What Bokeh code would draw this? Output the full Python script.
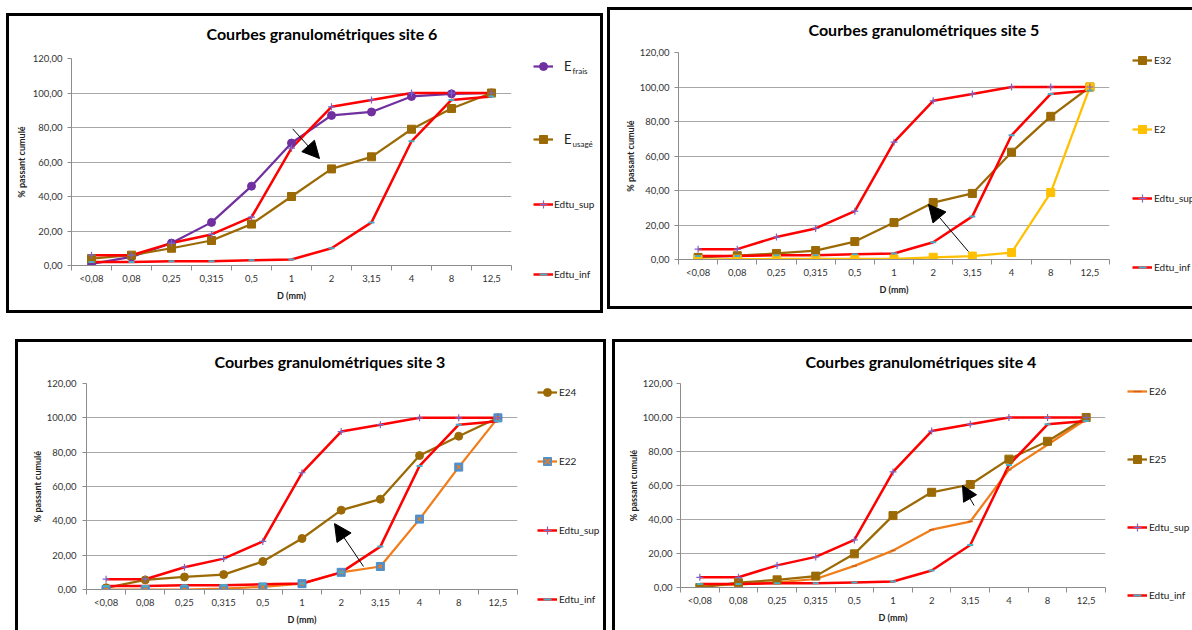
from bokeh.plotting import figure
from bokeh.layouts import column, row
from bokeh.models import (Range1d, FixedTicker, Legend, LegendItem, Arrow, Label,
                          NormalHead, Spacer, Plot)
from bokeh.embed import file_html
from bokeh.resources import INLINE

# ---------------- data ----------------
categories = ["<0,08", "0,08", "0,25", "0,315", "0,5", "1", "2", "3,15", "4", "8", "12,5"]
y_ticks = [0, 20, 40, 60, 80, 100, 120]
y_tick_labels = ["0,00", "20,00", "40,00", "60,00", "80,00", "100,00", "120,00"]

edtu_sup = [6, 6, 13, 18, 28, 68, 92, 96, 100, 100, 100]
edtu_inf = [2, 2, 2.5, 2.5, 3, 3.5, 10, 25, 72, 96, 98]

site6_frais = [1, 5, 13, 25, 46, 71, 87, 89, 98, 99.5, 100]
site6_usage = [4, 6, 10, 14.5, 24, 40, 56, 63, 79, 91, 100]

site5_e32 = [1.2, 2.2, 3.5, 5.2, 10.4, 21.4, 33, 38.3, 62.2, 83, 100]
site5_e2 = [0, 0.2, 0.3, 0.3, 0.3, 0.3, 1.3, 2, 4, 38.8, 100]

site3_e24 = [1, 5.6, 7.3, 8.7, 16.3, 29.7, 46.2, 52.6, 78, 89.3, 100]
site3_e22 = [0, 0, 0, 0.5, 1.5, 3.4, 10, 13.4, 41, 71.3, 100]

site4_e26 = [1, 1.8, 3, 5, 12.7, 21.7, 34, 38.8, 69.2, 84, 99]
site4_e25 = [0, 2.8, 4.5, 6.7, 19.8, 42.3, 56, 60.6, 75.5, 86, 100]

# arrows (x in category index units, y in %)
arrow_site6 = (5.03, 79.2, 5.70, 62.0)
arrow_site5 = (6.90, 4.6, 5.88, 31.9)
arrow_site3 = (6.57, 13.4, 5.83, 38.4)
arrow_site4 = (7.10, 48.2, 6.80, 60.0)

# ---------------- styles ----------------
FONT = "Lato"
RED = "#FF0000"
PURPLE = "#7030A0"
BROWN = "#9C6A05"
YELLOW = "#FFC000"
ORANGE = "#F07D1A"
BLUE = "#4F8FCB"
AXC = "#8C8C8C"
GRID = "#A8A8A8"
TXT = "#222222"

FA = {"frame_align": False} if "frame_align" in Plot.properties() else {}

xs = list(range(len(categories)))


def border_styles(rects):
    imgs = ", ".join(["linear-gradient(#000000, #000000)"] * len(rects))
    sizes = ", ".join(f"{w}px {h}px" for (x, y, w, h) in rects)
    poss = ", ".join(f"{x}px {y}px" for (x, y, w, h) in rects)
    return {"background-image": imgs, "background-size": sizes,
            "background-position": poss, "background-repeat": "no-repeat"}


def sup_spec():
    return dict(label="Edtu_sup", y=edtu_sup, color=RED, lw=2.5,
                markers=[("cross", 7, None, "#7A66C8", 1.2)])


def inf_spec():
    return dict(label="Edtu_inf", y=edtu_inf, color=RED, lw=2.5,
                markers=[("dash", 6, None, "#4BACC6", 2)])


def draw_series(p, s):
    rs = [p.line(xs, s["y"], line_color=s["color"], line_width=s["lw"])]
    for (mk, sz, fill, lc, mlw) in s["markers"]:
        rs.append(p.scatter(xs, s["y"], marker=mk, size=sz,
                            fill_color=fill, line_color=lc, line_width=mlw))
    return rs


def make_chart(W, H, frame, title, title_off, title_standoff, ytick_standoff,
               ylab_standoff, rects, specs, arrow, head=16):
    L, R, T, B = frame
    p = figure(width=W, height=H,
               x_range=Range1d(-0.5, len(categories) - 0.5), y_range=Range1d(0, 120),
               output_backend="svg", toolbar_location=None,
               min_border_left=L, min_border_right=W - R,
               min_border_top=T, min_border_bottom=H - B,
               background_fill_color="white", border_fill_color=None,
               outline_line_color=None, styles=border_styles(rects), **FA)
    p.title.text = title
    p.title.align = "left"
    p.title.offset = title_off
    p.title.standoff = title_standoff
    p.title.text_font = FONT
    p.title.text_font_size = "16px"
    p.title.text_font_style = "bold"
    p.title.text_color = "black"

    xa = p.xaxis[0]
    xa.ticker = FixedTicker(ticks=xs, minor_ticks=[i - 0.5 for i in range(len(categories) + 1)])
    xa.major_label_overrides = {i: c for i, c in enumerate(categories)}
    xa.major_tick_out = 0
    xa.major_tick_in = 0
    xa.minor_tick_out = 5
    xa.minor_tick_in = 0
    xa.minor_tick_line_color = AXC
    xa.axis_line_color = AXC
    xa.major_label_standoff = 2
    xa.major_label_text_font = FONT
    xa.major_label_text_font_size = "9.5px"
    xa.major_label_text_color = "#333333"
    xa.axis_label = "D (mm)"
    xa.axis_label_standoff = 3
    xa.axis_label_text_font = FONT
    xa.axis_label_text_font_size = "9px"
    xa.axis_label_text_font_style = "bold"
    xa.axis_label_text_color = TXT

    ya = p.yaxis[0]
    ya.ticker = FixedTicker(ticks=y_ticks)
    ya.major_label_overrides = dict(zip(y_ticks, y_tick_labels))
    ya.major_tick_out = 4
    ya.major_tick_in = 0
    ya.minor_tick_out = 0
    ya.minor_tick_in = 0
    ya.major_tick_line_color = AXC
    ya.axis_line_color = AXC
    ya.major_label_standoff = ytick_standoff
    ya.major_label_text_font = FONT
    ya.major_label_text_font_size = "9.5px"
    ya.major_label_text_color = "#333333"
    ya.axis_label = "% passant cumulé"
    ya.axis_label_standoff = ylab_standoff
    ya.axis_label_text_font = FONT
    ya.axis_label_text_font_size = "9px"
    ya.axis_label_text_font_style = "bold"
    ya.axis_label_text_color = TXT

    p.xgrid.visible = False
    p.ygrid.grid_line_color = GRID
    p.ygrid.grid_line_width = 1.2

    # Excel-like order: all lines first, then all markers
    for s in specs:
        p.line(xs, s["y"], line_color=s["color"], line_width=s["lw"])
    for s in specs:
        for (mk, sz, fill, lc, mlw) in s["markers"]:
            p.scatter(xs, s["y"], marker=mk, size=sz,
                      fill_color=fill, line_color=lc, line_width=mlw)

    x0, y0, x1, y1 = arrow
    p.add_layout(Arrow(end=NormalHead(size=head, fill_color="black", line_color="black"),
                       x_start=x0, y_start=y0, x_end=x1, y_end=y1,
                       line_color="black", line_width=1))
    return p


def make_legend_fig(W, H, rects):
    # the legend lives in its own small figure; the series are drawn there too
    # (same data) but outside its visible x range, only to feed the legend glyphs
    lf = figure(width=W, height=H, x_range=Range1d(-100, -99), y_range=Range1d(0, 120),
                output_backend="svg", toolbar_location=None,
                min_border_left=0, min_border_right=0, min_border_top=0,
                min_border_bottom=0, x_axis_location=None, y_axis_location=None,
                background_fill_color=None, border_fill_color=None,
                outline_line_color=None, styles=border_styles(rects), **FA)
    lf.title.visible = False
    lf.grid.visible = False
    return lf


def add_legend(lf, specs, labels, H, sym_left, first_cy, spacing, font, standoff):
    """sym_left / first_cy in the legend figure's own pixel space (y from top)."""
    items = [LegendItem(label=lab, renderers=draw_series(lf, s))
             for s, lab in zip(specs, labels)]
    n = len(items)
    top = first_cy - 10
    bottom = top + n * 20 + (n - 1) * spacing
    lf.add_layout(Legend(items=items, location=(sym_left, H - bottom), spacing=spacing,
                         padding=0, margin=0, border_line_color=None,
                         background_fill_alpha=0, glyph_width=20, glyph_height=20,
                         label_height=20, label_standoff=standoff,
                         label_text_font=FONT, label_text_font_size=font,
                         label_text_color=TXT))


# ---------------- site 6 (top left) ----------------
specs6 = [dict(label="E", y=site6_frais, color=PURPLE, lw=2.25,
               markers=[("circle", 8, PURPLE, PURPLE, 1)]),
          dict(label="E", y=site6_usage, color=BROWN, lw=2.25,
               markers=[("square", 8, BROWN, BROWN, 1)]),
          sup_spec(), inf_spec()]
c6 = make_chart(520, 324, (71, 511, 52, 259), "Courbes granulométriques site 6", 135, 31,
                5, 3, [(6, 7, 3, 300), (6, 7, 514, 3), (6, 304, 514, 3)],
                specs6, arrow_site6, head=17)
g6 = make_legend_fig(86, 324, [(0, 7, 83, 3), (0, 304, 83, 3), (80, 7, 3, 300)])
add_legend(g6, specs6[:2], ["E", "E"], 324, 13, 60, 53, "13px", 11)
add_legend(g6, specs6[2:], ["Edtu_sup", "Edtu_inf"], 324, 13, 198, 50, "10px", 1)
for txt, cx, cy in [("frais", 52, 64), ("usagé", 52, 137)]:
    g6.add_layout(Label(x=cx, y=324 - cy, x_units="screen", y_units="screen", text=txt,
                        text_font=FONT, text_font_size="8px", text_baseline="middle",
                        text_align="left", text_color=TXT))

# ---------------- site 5 (top right) ----------------
specs5 = [dict(label="E32", y=site5_e32, color=BROWN, lw=2.25,
               markers=[("square", 8, BROWN, BROWN, 1)]),
          dict(label="E2", y=site5_e2, color=YELLOW, lw=2.25,
               markers=[("square", 8, YELLOW, YELLOW, 1)]),
          sup_spec(), inf_spec()]
c5 = make_chart(512, 324, (72, 503, 52, 259), "Courbes granulométriques site 5", 130, 27,
                5, 1, [(1, 7, 3, 302), (1, 7, 511, 3), (1, 306, 511, 3)],
                specs5, arrow_site5, head=17)
g5 = make_legend_fig(74, 324, [(0, 7, 74, 3), (0, 306, 74, 3)])
add_legend(g5, specs5, [s["label"] for s in specs5], 324, 14, 60, 49, "10px", 2)

# ---------------- site 3 (bottom left) ----------------
specs3 = [dict(label="E24", y=site3_e24, color=BROWN, lw=2.25,
               markers=[("circle", 8, BROWN, BROWN, 1)]),
          dict(label="E22", y=site3_e22, color=ORANGE, lw=2.25,
               markers=[("square", 8, BLUE, BLUE, 1), ("x", 5, None, ORANGE, 1.3)]),
          sup_spec(), inf_spec()]
c3 = make_chart(527, 300, (86, 517, 53, 259), "Courbes granulométriques site 3", 128, 25,
                6, 1, [(15, 9, 3, 291), (15, 9, 512, 3)],
                specs3, arrow_site3, head=17)
g3 = make_legend_fig(79, 300, [(0, 9, 79, 3), (76, 9, 3, 291)])
add_legend(g3, specs3, [s["label"] for s in specs3], 300, 10, 62, 49, "10px", 2)

# ---------------- site 4 (bottom right) ----------------
specs4 = [dict(label="E26", y=site4_e26, color=ORANGE, lw=2.25,
               markers=[("dash", 5, None, "#D0601A", 1.5)]),
          dict(label="E25", y=site4_e25, color=BROWN, lw=2.25,
               markers=[("square", 8, BROWN, BROWN, 1)]),
          sup_spec(), inf_spec()]
c4 = make_chart(509, 300, (74, 499, 53, 257), "Courbes granulométriques site 4", 125, 25,
                4, 1, [(6, 9, 3, 291), (6, 9, 503, 3)],
                specs4, arrow_site4, head=15)
g4 = make_legend_fig(77, 300, [(0, 9, 77, 3)])
add_legend(g4, specs4, [s["label"] for s in specs4], 300, 12, 61, 48, "10px", 2)

layout = column(
    row(column(Spacer(width=606, height=6), row(c6, g6)), row(c5, g5)),
    row(row(c3, g3), row(c4, g4)))
open("out.html", "w").write(file_html(layout, INLINE))
